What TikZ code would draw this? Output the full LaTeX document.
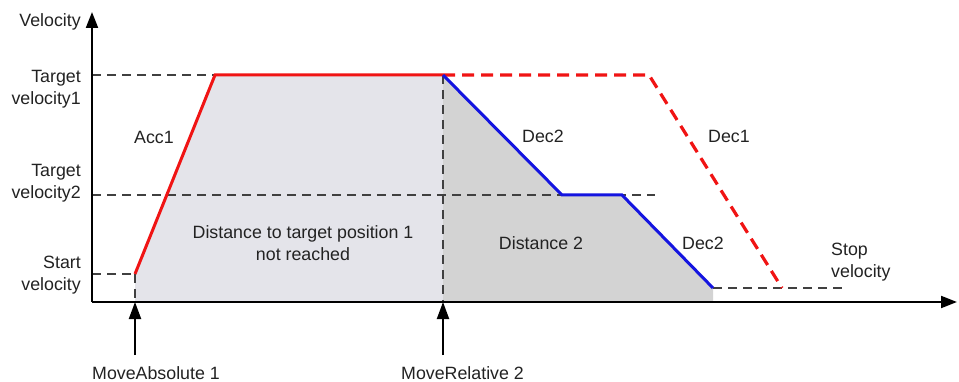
\documentclass[tikz,border=0pt]{standalone}
\usepackage{fontspec}
\setmainfont{Liberation Sans}
\usetikzlibrary{arrows.meta}
\definecolor{txt}{HTML}{222222}
\definecolor{lightfill}{HTML}{E4E4EA}
\definecolor{darkfill}{HTML}{D3D3D3}
\definecolor{redl}{HTML}{F01414}
\definecolor{bluel}{HTML}{1414E0}
\definecolor{dashg}{HTML}{404040}
\begin{document}
\begin{tikzpicture}[x=1pt,y=-1pt,
  lbl/.style={font=\fontsize{17.8}{21.5}\selectfont, text=txt, inner sep=0pt},
  guide/.style={draw=dashg, line width=2pt, dash pattern=on 9pt off 6pt},
  axisline/.style={draw=black, line width=2pt, -{Triangle[length=16pt,width=12pt]}},
  evarrow/.style={draw=black, line width=2pt, -{Triangle[length=17pt,width=12pt]}},
  redsolid/.style={draw=redl, line width=3pt, line join=miter},
  reddash/.style={draw=redl, line width=3.2pt, dash pattern=on 12pt off 7pt},
  bluesolid/.style={draw=bluel, line width=3pt, line join=miter}
]
\useasboundingbox (0,0) rectangle (959,382);

% key points
\coordinate (O) at (92,302);
\coordinate (ytip) at (92,12);
\coordinate (xtip) at (957,302);
\coordinate (s0) at (135,274);
\coordinate (s0b) at (135,302);
\coordinate (a1) at (215,75);
\coordinate (m2) at (443,75);
\coordinate (m2b) at (443,302);
\coordinate (d1a) at (649,75);
\coordinate (d1b) at (782,288);
\coordinate (b1) at (562,195);
\coordinate (b2) at (622,195);
\coordinate (b3) at (713,288);
\coordinate (b3b) at (713,302);
\coordinate (tv1) at (92,75);
\coordinate (tv2) at (92,195);
\coordinate (tv2e) at (655,195);
\coordinate (sv) at (92,274);
\coordinate (stope) at (842,288);
\coordinate (ev1) at (135,355);
\coordinate (ev2) at (443,355);

% filled areas
\fill[lightfill] (s0b) -- (s0) -- (a1) -- (m2) -- (m2b) -- cycle;
\fill[darkfill] (m2b) -- (m2) -- (b1) -- (b2) -- (b3) -- (b3b) -- cycle;

% guide lines
\draw[guide] (tv1) -- (a1);
\draw[guide] (tv2) -- (tv2e);
\draw[guide] (sv) -- (s0);
\draw[guide] (s0) -- (s0b);
\draw[guide] (m2) -- (m2b);
\draw[guide] (b3) -- (stope);

% axes
\draw[axisline] (O) -- (ytip);
\draw[axisline] (O) -- (xtip);

% profiles
\draw[reddash] (m2) -- (d1a) -- (d1b);
\draw[redsolid] (s0) -- (a1) -- (m2);
\draw[bluesolid] (m2) -- (b1) -- (b2) -- (b3);

% event arrows
\draw[evarrow] (ev1) -- (s0b);
\draw[evarrow] (ev2) -- (m2b);

% labels
\node[lbl, anchor=east] (lvel) at (81,22) {Velocity};
\node[lbl, anchor=east, align=right] (ltv1) at (81,89) {Target\\velocity1};
\node[lbl, anchor=east, align=right] (ltv2) at (81,183) {Target\\velocity2};
\node[lbl, anchor=east, align=right] (lsv) at (81,275) {Start\\velocity};
\node[lbl] (lacc) at (154,137) {Acc1};
\node[lbl, align=center] (ldist1) at (303,243) {Distance to target position 1\\not reached};
\node[lbl] (ldec2a) at (543,136) {Dec2};
\node[lbl] (ldec1) at (729,136) {Dec1};
\node[lbl] (ldist2) at (541,243) {Distance 2};
\node[lbl] (ldec2b) at (703,243) {Dec2};
\node[lbl, anchor=west, align=left] (lstop) at (831,262) {Stop\\velocity};
\node[lbl, anchor=west] (lma) at (92,373) {MoveAbsolute 1};
\node[lbl, anchor=west] (lmr) at (401,373) {MoveRelative 2};
\end{tikzpicture}
\end{document}
